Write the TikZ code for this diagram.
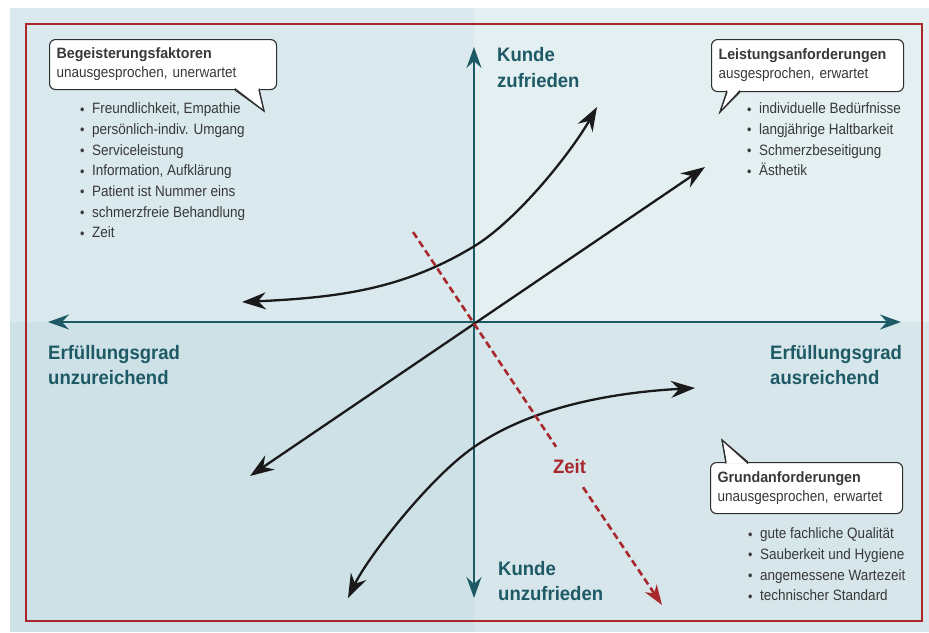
\documentclass[tikz,border=0pt]{standalone}
\usepackage{fontspec}
\setmainfont{Liberation Sans}[FakeStretch=0.9,BoldFeatures={FakeStretch=0.95}]
\usepackage{xcolor}
\usetikzlibrary{arrows.meta,positioning,calc}
\definecolor{tlbg}{HTML}{D9E9ED}
\definecolor{trbg}{HTML}{E3EFF1}
\definecolor{blbg}{HTML}{CDE1E6}
\definecolor{brbg}{HTML}{D6E6EA}
\definecolor{rahmenrot}{HTML}{A8282C}
\definecolor{petrol}{HTML}{1E5A66}
\definecolor{txtgrau}{HTML}{383838}
\definecolor{boxlinie}{HTML}{2E2E2E}
\definecolor{pfeilschwarz}{HTML}{1A1A1A}
\newcommand{\itm}{\makebox[12pt][l]{\raisebox{-0.05ex}{\fontsize{14}{14}\selectfont\textbullet}}}

\begin{document}
\begin{tikzpicture}[
  x=1pt,y=-1pt,
  box/.style={draw=boxlinie,line width=1.1pt,fill=white,rounded corners=6pt,anchor=north west,align=left,
    inner xsep=7pt,inner ysep=0pt,text width=#1,minimum height=50pt,text=txtgrau,font=\fontsize{15}{19}\selectfont},
  tail/.style={draw=boxlinie,line width=1.1pt,fill=white},
  liste/.style={align=left,inner sep=0pt,text=txtgrau,font=\fontsize{15}{20.7}\selectfont},
  lbl/.style={anchor=north west,align=left,inner sep=0pt,text=petrol,font=\fontsize{19.5}{25.5}\selectfont\bfseries},
  achse/.style={draw=petrol,line width=1.5pt,{Stealth[length=21pt,width=15pt,inset=7pt]}-{Stealth[length=21pt,width=15pt,inset=7pt]}},
  arr/.style={draw=pfeilschwarz,line width=2.3pt,{Stealth[length=24pt,width=17pt,inset=8pt]}-{Stealth[length=24pt,width=17pt,inset=8pt]}},
  zeitlinie/.style={draw=rahmenrot,line width=2.6pt,dash pattern=on 7pt off 4pt}
]
\useasboundingbox (0,0) rectangle (929,632);
\fill[tlbg] (10,8) rectangle (474,322);
\fill[trbg] (474,8) rectangle (929,322);
\fill[blbg] (10,322) rectangle (474,632);
\fill[brbg] (474,322) rectangle (929,632);
\draw[rahmenrot,line width=2.2pt] (26,24) rectangle (922,621);

\coordinate (O) at (474,322);
\coordinate (xl) at (48,322);
\coordinate (xr) at (901,322);
\coordinate (yt) at (474,47);
\coordinate (yb) at (474,598);
\draw[achse] (xl) -- (xr);
\draw[achse] (yb) -- (yt);

\node[lbl] (zufr) at (497,47.5) {Kunde\\zufrieden};
\node[lbl] (unzufr) at (498,561) {Kunde\\unzufrieden};
\node[lbl] (unzur) at (48,345) {Erfüllungsgrad\\unzureichend};
\node[lbl] (ausr) at (770,345) {Erfüllungsgrad\\ausreichend};

\coordinate (b1) at (242,302);
\coordinate (b2) at (597,107);
\coordinate (l1) at (250,476);
\coordinate (l2) at (705,167);
\coordinate (g1) at (695,388);
\coordinate (g2) at (348,598);
\draw[arr] (b1) .. controls (340,297.5) and (403,289) .. (473,247) .. controls (518,220) and (572,151) .. (b2);
\draw[arr] (l1) -- (l2);
\draw[arr] (g1) .. controls (605,393) and (529,409) .. (474,447) .. controls (429,478) and (368,557) .. (g2);

\node[text=rahmenrot,font=\fontsize{19.5}{22}\selectfont\bfseries,minimum height=40pt,inner sep=1pt] (zeit) at (569.5,467) {Zeit};
\coordinate (zs) at (413,232);
\coordinate (ze) at (662,605);
\draw[zeitlinie] (zs) -- (zeit);
\draw[zeitlinie,-{Stealth[length=20pt,width=14pt,inset=6pt]}] (zeit) -- (ze);

\node[box=213pt] (begbox) at (49,39) {\textbf{Begeisterungsfaktoren}\\unausgesprochen, unerwartet};
\path[tail] ($(begbox.south west)+(186,-1.5)$) -- (264,111) -- ($(begbox.south west)+(210,-1.5)$);
\draw[boxlinie,line width=1.1pt] ($(begbox.south west)+(186,0)$) -- (264,111) -- ($(begbox.south west)+(210,0)$);
\node[liste,below right=12.5pt and 31pt of begbox.south west] (beglist)
  {\itm Freundlichkeit, Empathie\\\itm persönlich-indiv. Umgang\\\itm Serviceleistung\\\itm Information, Aufklärung\\
   \itm Patient ist Nummer eins\\\itm schmerzfreie Behandlung\\\itm Zeit};

\node[box=178pt,minimum height=52pt] (leibox) at (711,39) {\textbf{Leistungsanforderungen}\\ausgesprochen, erwartet};
\path[tail] ($(leibox.south west)+(16,-1.5)$) -- (720,112) -- ($(leibox.south west)+(29,-1.5)$);
\draw[boxlinie,line width=1.1pt] ($(leibox.south west)+(16,0)$) -- (720,112) -- ($(leibox.south west)+(29,0)$);
\node[liste,below right=10.5pt and 36pt of leibox.south west] (leilist)
  {\itm individuelle Bedürfnisse\\\itm langjährige Haltbarkeit\\\itm Schmerzbeseitigung\\\itm Ästhetik};

\node[box=178pt,minimum height=51pt] (grubox) at (710,462) {\textbf{Grundanforderungen}\\unausgesprochen, erwartet};
\path[tail] ($(grubox.north west)+(16,1.5)$) -- (722,440) -- ($(grubox.north west)+(38,1.5)$);
\draw[boxlinie,line width=1.1pt] ($(grubox.north west)+(16,0)$) -- (722,440) -- ($(grubox.north west)+(38,0)$);
\node[liste,below right=13.5pt and 38pt of grubox.south west] (grulist)
  {\itm gute fachliche Qualität\\\itm Sauberkeit und Hygiene\\\itm angemessene Wartezeit\\\itm technischer Standard};
\end{tikzpicture}
\end{document}
